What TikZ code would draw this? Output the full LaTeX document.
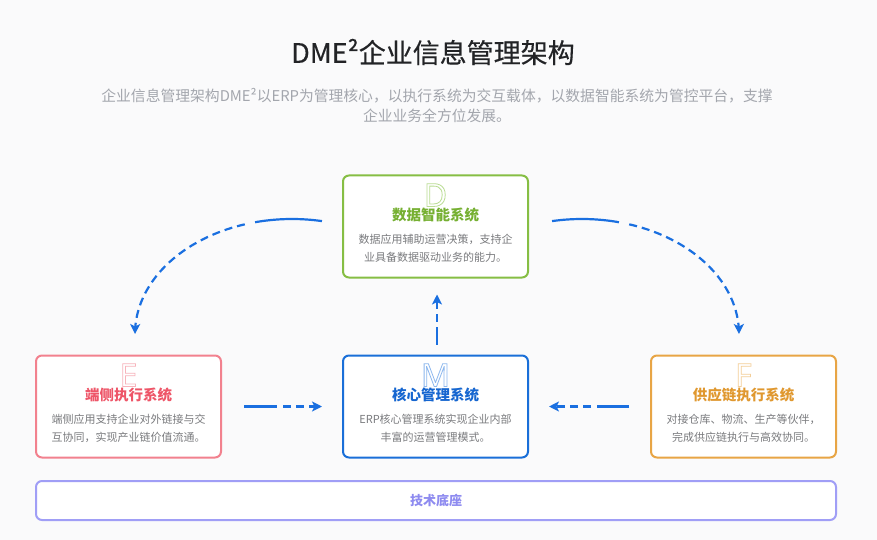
\documentclass[tikz,border=0pt]{standalone}
\usepackage{fontspec}
\setmainfont{Noto Sans CJK SC}
\newfontfamily\letterfont{Noto Sans}
\newfontfamily\titlefont{Noto Sans CJK SC}[FakeBold=0.4]
\usetikzlibrary{arrows.meta}
\definecolor{bg}{HTML}{FAFAFB}
\definecolor{ttl}{HTML}{222326}
\definecolor{sub}{HTML}{A3A6AD}
\definecolor{desc}{HTML}{7A7B7E}
\definecolor{cgreen}{HTML}{86BE44}
\definecolor{cgreenT}{HTML}{76B032}
\definecolor{cgreenL}{HTML}{B9DC92}
\definecolor{cpink}{HTML}{F2818E}
\definecolor{cpinkT}{HTML}{EE5568}
\definecolor{cpinkL}{HTML}{F7B3BB}
\definecolor{cblue}{HTML}{1A6FD8}
\definecolor{cblueT}{HTML}{1666D0}
\definecolor{cblueL}{HTML}{8DB8EE}
\definecolor{corange}{HTML}{E8A545}
\definecolor{corangeT}{HTML}{E0982F}
\definecolor{corangeL}{HTML}{F3CE98}
\definecolor{cpurple}{HTML}{A09EF6}
\definecolor{cpurpleT}{HTML}{8E8BF0}
\definecolor{arrowc}{HTML}{1A6FE0}
\newcommand\outlinetext[1]{\special{pdf:literal direct 1 Tr 0.8 w}#1\special{pdf:literal direct 0 Tr}}
\tikzset{
  sysbox/.style={draw, line width=2pt, rounded corners=6pt, fill=white,
    minimum width=185pt, minimum height=102pt, inner sep=0pt},
  boxtitle/.style={font=\fontsize{14.5}{16}\selectfont\bfseries, inner sep=0pt},
  boxdesc/.style={font=\fontsize{11}{18.5}\selectfont, text=desc, align=center, inner sep=0pt},
  bigletter/.style={font=\letterfont\fontsize{32}{32}\selectfont, inner sep=0pt, anchor=base},
  solidseg/.style={draw=arrowc, line width=2.2pt},
  dashseg/.style={draw=arrowc, line width=2.2pt, dash pattern=on 8pt off 5pt,
    -{Stealth[length=10pt,width=10pt,inset=2.5pt]}},
}
\begin{document}
\begin{tikzpicture}[x=1pt,y=-1pt]
\useasboundingbox (0,0) rectangle (877,540);
\fill[bg] (0,0) rectangle (877,540);

% title
\node[font=\titlefont\fontsize{27}{28}\selectfont, text=ttl, inner sep=0pt] (title) at (433,52) {DME²企业信息管理架构};
\node[font=\fontsize{14.8}{20}\selectfont, text=sub, align=center, inner sep=0pt] (subtitle) at (437,106)
  {企业信息管理架构DME²以ERP为管理核心，以执行系统为交互载体，以数据智能系统为管控平台，支撑\\企业业务全方位发展。};

% boxes
\node[sysbox, draw=cgreen] (data) at (435.5,226.5) {};
\node[sysbox, draw=cpink] (edge) at (128.5,406.5) {};
\node[sysbox, draw=cblue] (core) at (435.5,406.5) {};
\node[sysbox, draw=corange] (supply) at (743.5,406.5) {};
\node[draw=cpurple, line width=2pt, rounded corners=6pt, fill=white, minimum width=800pt, minimum height=39pt, inner sep=0pt] (base) at (436,500.5) {};

% big outlined letters
\node[bigletter, text=cgreenL] (dL) at ([yshift=-32pt]data.north) {\outlinetext{D}};
\node[bigletter, text=cpinkL] (eL) at ([yshift=-32pt]edge.north) {\outlinetext{E}};
\node[bigletter, text=cblueL] (mL) at ([yshift=-32pt]core.north) {\outlinetext{M}};
\node[bigletter, text=corangeL] (fL) at ([yshift=-32pt]supply.north) {\outlinetext{F}};

% box titles
\node[boxtitle, text=cgreenT] (dT) at ([yshift=-40pt]data.north) {数据智能系统};
\node[boxtitle, text=cpinkT] (eT) at ([yshift=-40pt]edge.north) {端侧执行系统};
\node[boxtitle, text=cblueT] (mT) at ([yshift=-40pt]core.north) {核心管理系统};
\node[boxtitle, text=corangeT] (fT) at ([yshift=-40pt]supply.north) {供应链执行系统};

% descriptions
\node[boxdesc] (dD) at ([yshift=-74pt]data.north) {数据应用辅助运营决策，支持企\\业具备数据驱动业务的能力。};
\node[boxdesc] (eD) at ([yshift=-74pt]edge.north) {端侧应用支持企业对外链接与交\\互协同，实现产业链价值流通。};
\node[boxdesc] (mD) at ([yshift=-74pt]core.north) {ERP核心管理系统实现企业内部\\丰富的运营管理模式。};
\node[boxdesc] (fD) at ([yshift=-74pt]supply.north) {对接仓库、物流、生产等伙伴，\\完成供应链执行与高效协同。};

% base text
\node[font=\fontsize{13}{14}\selectfont\bfseries, text=cpurpleT, inner sep=0pt] (baseT) at (base.center) {技术底座};

% straight connectors
\coordinate (l1) at ([xshift=22pt]edge.east);
\coordinate (l2) at ([xshift=55pt]edge.east);
\coordinate (l3) at ([xshift=61pt]edge.east);
\draw[solidseg] (l1) -- (l2);
\draw[dashseg] (l3) -- ([xshift=-20pt]core.west);

\coordinate (r1) at ([xshift=-21pt]supply.west);
\coordinate (r2) at ([xshift=-53pt]supply.west);
\coordinate (r3) at ([xshift=-59pt]supply.west);
\draw[solidseg] (r1) -- (r2);
\draw[dashseg] (r3) -- ([xshift=20pt]core.east);

\coordinate (v1) at ([xshift=1.5pt,yshift=10pt]core.north);
\coordinate (v2) at ([xshift=1.5pt,yshift=28pt]core.north);
\coordinate (v3) at ([xshift=1.5pt,yshift=33pt]core.north);
\draw[solidseg] (v1) -- (v2);
\draw[dashseg] (v3) -- ([xshift=1.5pt,yshift=-16pt]data.south);

% arcs
\draw[solidseg] plot[domain=79:103.6, samples=25] ({292+157*cos(\x)},{334-115*sin(\x)});
\draw[dashseg] plot[domain=107.5:180, samples=60] ({292+157*cos(\x)},{334-115*sin(\x)});
\draw[solidseg] plot[domain=101:76.4, samples=25] ({582+157*cos(\x)},{334-115*sin(\x)});
\draw[dashseg] plot[domain=72.5:0, samples=60] ({582+157*cos(\x)},{334-115*sin(\x)});
\end{tikzpicture}
\end{document}
